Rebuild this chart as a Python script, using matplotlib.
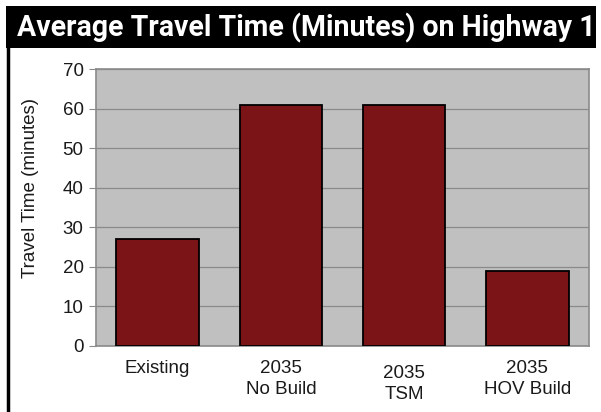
import matplotlib
matplotlib.use("Agg")
import matplotlib.pyplot as plt
from matplotlib.patches import Rectangle
from matplotlib.lines import Line2D
from matplotlib.transforms import offset_copy

categories = ["Existing", "2035\nNo Build", "2035\nTSM", "2035\nHOV Build"]
travel_minutes = [27, 61, 61, 19]
y_ticks = [0, 10, 20, 30, 40, 50, 60, 70]
title = "Average Travel Time (Minutes) on Highway 1"
y_label = "Travel Time (minutes)"

W, H = 601, 412
fig = plt.figure(figsize=(W / 100, H / 100), dpi=100)
fig.patch.set_facecolor("white")

def fx(px):
    return px / W

def fy(py):
    return 1 - py / H

# Title banner
fig.patches.append(Rectangle((fx(6), fy(48)), fx(596) - fx(6), fy(6) - fy(48),
                             transform=fig.transFigure, facecolor="black",
                             edgecolor="none", zorder=0))
title_txt = fig.text(fx(306), fy(28), title, color="white", fontsize=20,
                     fontweight="bold", family="Roboto", ha="center", va="center")
# shrink the banner text so it spans the banner width
renderer = fig.canvas.get_renderer()
w = title_txt.get_window_extent(renderer).width
title_txt.set_fontsize(20 * 578 / w)

# Left frame line
fig.lines.append(Line2D([fx(7.5), fx(7.5)], [fy(48), 0], transform=fig.transFigure,
                        color="black", linewidth=2.5))

ax = fig.add_axes([fx(96), fy(346), fx(589) - fx(96), fy(69) - fy(346)])
ax.set_facecolor("#c0c0c0")
x = range(len(categories))
ax.bar(x, travel_minutes, width=0.67, color="#7b1416", edgecolor="black",
       linewidth=1.3, zorder=3)
ax.set_xlim(-0.5, len(categories) - 0.5)
ax.set_ylim(0, 70)
ax.set_yticks(y_ticks)
ax.yaxis.grid(True, color="#8a8a8a", linewidth=0.9, zorder=1)
ax.set_axisbelow(True)
for s in ax.spines.values():
    s.set_color("#8a8a8a")
    s.set_linewidth(1.2)

ax.tick_params(axis="y", length=5, color="#8a8a8a", labelsize=13.5, pad=4,
               labelcolor="#1a1a1a")
ax.tick_params(axis="x", length=0, labelsize=13.5, pad=10, labelcolor="#1a1a1a")
for lbl in ax.get_yticklabels():
    lbl.set_family("Liberation Sans")
ax.set_xticks(list(x))
ax.set_xticklabels(categories, family="Liberation Sans", linespacing=1.3)
# the TSM label sits a little lower
tsm = ax.get_xticklabels()[2]
tsm.set_transform(offset_copy(tsm.get_transform(), fig=fig, x=0, y=-5, units="dots"))

fig.text(fx(31), fy(188), y_label, rotation=90, fontsize=13.5, family="Liberation Sans",
         ha="center", va="center", color="#1a1a1a")

fig.savefig("out.png", dpi=100)
